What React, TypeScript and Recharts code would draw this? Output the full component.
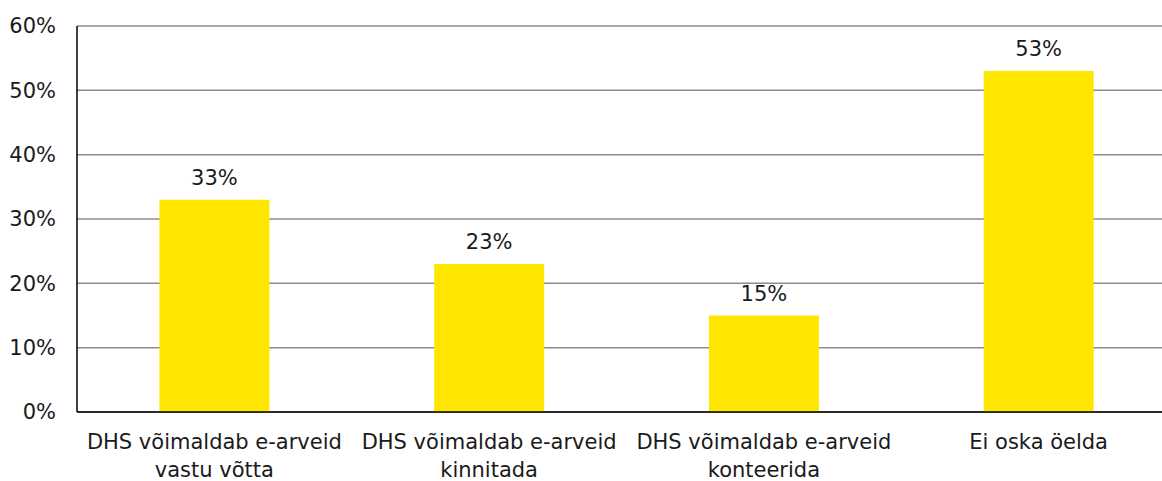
import { BarChart, Bar, XAxis, YAxis, CartesianGrid, LabelList } from 'recharts';

const categories = [
  'DHS võimaldab e-arveid\nvastu võtta',
  'DHS võimaldab e-arveid\nkinnitada',
  'DHS võimaldab e-arveid\nkonteerida',
  'Ei oska öelda',
];
const values = [33, 23, 15, 53];
const yTicks = [0, 10, 20, 30, 40, 50, 60];

const data = categories.map((name, i) => ({ name, value: values[i] }));

const FONT = '"DejaVu Sans", sans-serif';

const CategoryTick = ({ x, y, payload }: any) => {
  const lines = String(payload.value).split('\n');
  return (
    <text x={x} y={y} textAnchor="middle" fill="#1a1a1a" fontSize={21} fontFamily={FONT}>
      {lines.map((l: string, i: number) => (
        <tspan key={i} x={x} dy={i === 0 ? 35 : 28}>{l}</tspan>
      ))}
    </text>
  );
};

export default function App() {
  return (
    <div style={{ position: 'absolute', left: 0, top: 0, width: 1162, height: 481, overflow: 'hidden', background: '#fff' }}>
      <BarChart
        width={1176}
        height={481}
        data={data}
        margin={{ top: 26, right: 0, bottom: 9, left: 0 }}
        barCategoryGap="30%"
      >
        <CartesianGrid vertical={false} stroke="#8c8c8c" strokeWidth={1.5} />
        <XAxis
          dataKey="name"
          height={60}
          interval={0}
          tickLine={false}
          tickSize={0}
          axisLine={{ stroke: '#000', strokeWidth: 1.5 }}
          tick={<CategoryTick />}
        />
        <YAxis
          width={77}
          domain={[0, 60]}
          ticks={yTicks}
          tickFormatter={(v: number) => `${v}%`}
          tickLine={false}
          tickSize={0}
          tickMargin={21}
          axisLine={{ stroke: '#000', strokeWidth: 1.5 }}
          tick={{ fill: '#1a1a1a', fontSize: 21, fontFamily: FONT }}
        />
        <Bar dataKey="value" fill="#FFE600" isAnimationActive={false}>
          <LabelList
            dataKey="value"
            position="top"
            offset={15}
            formatter={(v: number) => `${v}%`}
            style={{ fill: '#1a1a1a', fontSize: 21, fontFamily: FONT }}
          />
        </Bar>
      </BarChart>
    </div>
  );
}
